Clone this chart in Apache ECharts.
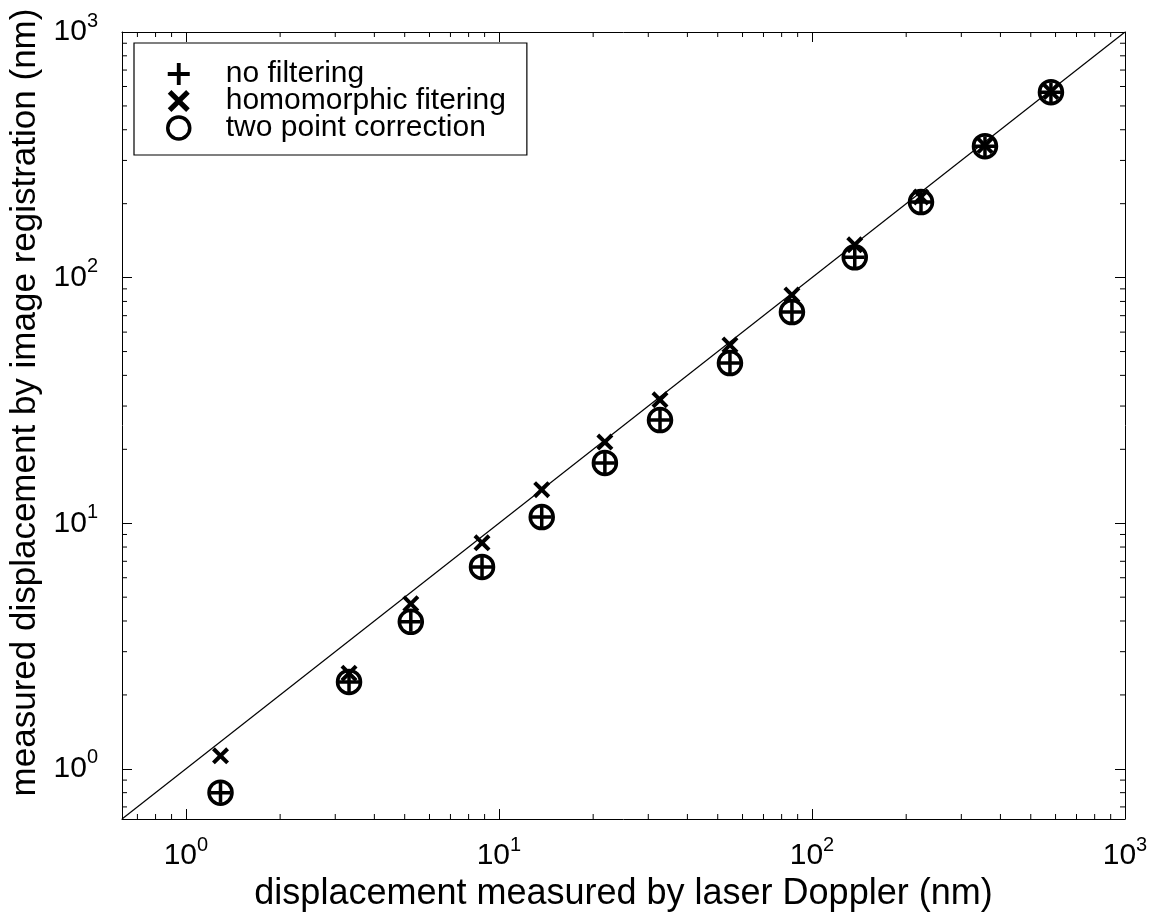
<!DOCTYPE html>
<html>
<head>
<meta charset="utf-8">
<title>Image registration vs laser Doppler displacement</title>
<script src="https://cdn.jsdelivr.net/npm/echarts@6/dist/echarts.min.js"></script>
<style>
  html, body { margin: 0; padding: 0; background: #fff; }
  #chart { width: 1154px; height: 915px; }
</style>
</head>
<body>
<div id="chart"></div>
<script>
// Displacement measured by laser Doppler (nm) — x values shared by all series
const laserDoppler = [1.29, 3.32, 5.23, 8.83, 13.7, 21.8, 32.7, 54.7, 86.3, 137, 223, 357, 580];
// Displacement measured by image registration (nm)
const noFiltering   = [0.80, 2.26, 3.97, 6.64, 10.6, 17.6, 26.3, 44.9, 72.4, 121, 203, 343, 569];
const homomorphic   = [1.13, 2.45, 4.70, 8.32, 13.7, 21.4, 31.8, 53.2, 85.0, 136, 213, 345, 572];
const twoPoint      = [0.80, 2.26, 3.97, 6.64, 10.6, 17.6, 26.3, 44.9, 72.4, 121, 203, 343, 569];

const seriesNames = ['no filtering', 'homomorphic fitering', 'two point correction'];
const xTitle = 'displacement measured by laser Doppler (nm)';
const yTitle = 'measured displacement by image registration (nm)';

// Axis range (both axes logarithmic, same extent)
const AXIS_MIN = 0.625;
const AXIS_MAX = 1000;
// Decades and in-decade multipliers used for the minor tick marks
const decades = [0.1, 1, 10, 100];
const minorMultipliers = [2, 3, 4, 5, 6, 7, 8, 9];

const FONT = '"Liberation Sans", Arial, Helvetica, sans-serif';

const minorValues = [];
decades.forEach(d => minorMultipliers.forEach(m => {
  const v = m * d;
  if (v > AXIS_MIN && v < AXIS_MAX) minorValues.push(v);
}));

const zip = (xs, ys) => xs.map((x, i) => [x, ys[i]]);

// Power-of-ten labels rendered as 10 with a superscript exponent
function powLabel(value) {
  const e = Math.log10(value);
  if (Math.abs(e - Math.round(e)) > 1e-6) return '';
  return '{b|10}{s|' + Math.round(e) + '}';
}
const powRich = {
  b: { fontSize: 30, lineHeight: 42, fontFamily: FONT, color: '#000' },
  s: { fontSize: 20, lineHeight: 20, fontFamily: FONT, color: '#000', verticalAlign: 'top' }
};

// Marker shapes
const PLUS = 'path://M8.25,0H11.75V8.25H20V11.75H11.75V20H8.25V11.75H0V8.25H8.25Z';
const CROSS = 'path://M0,3.3L3.3,0L10,6.7L16.7,0L20,3.3L13.3,10L20,16.7L16.7,20L10,13.3L3.3,20L0,16.7L6.7,10Z';

const axisCommon = {
  type: 'log',
  logBase: 10,
  min: AXIS_MIN,
  max: AXIS_MAX,
  splitLine: { show: false },
  axisLine: { show: true, onZero: false, lineStyle: { color: '#000', width: 1 } },
  axisTick: { show: true, inside: true, length: 10, lineStyle: { color: '#000', width: 1 } }
};

function minorTickSeries(isX) {
  return {
    type: 'custom',
    silent: true,
    clip: false,
    z: 1,
    data: minorValues.map(v => [v]),
    encode: isX ? { x: 0 } : { y: 0 },
    renderItem: function (params, api) {
      const v = api.value(0);
      const L = 5;
      const style = { stroke: '#000', lineWidth: 1 };
      if (isX) {
        const b = api.coord([v, AXIS_MIN]);
        const t = api.coord([v, AXIS_MAX]);
        return { type: 'group', children: [
          { type: 'line', shape: { x1: b[0], y1: b[1], x2: b[0], y2: b[1] - L }, style },
          { type: 'line', shape: { x1: t[0], y1: t[1], x2: t[0], y2: t[1] + L }, style }
        ]};
      }
      const l = api.coord([AXIS_MIN, v]);
      const r = api.coord([AXIS_MAX, v]);
      return { type: 'group', children: [
        { type: 'line', shape: { x1: l[0], y1: l[1], x2: l[0] + L, y2: l[1] }, style },
        { type: 'line', shape: { x1: r[0], y1: r[1], x2: r[0] - L, y2: r[1] }, style }
      ]};
    }
  };
}

const chart = echarts.init(document.getElementById('chart'), null, { renderer: 'canvas' });

chart.setOption({
  animation: false,
  backgroundColor: '#fff',
  textStyle: { fontFamily: FONT, color: '#000' },
  grid: { left: 122, right: 29, top: 32, bottom: 96, containLabel: false, outerBoundsMode: 'none' },
  legend: {
    data: [
      { name: seriesNames[0] },
      { name: seriesNames[1] },
      { name: seriesNames[2], itemStyle: { color: 'rgba(0,0,0,0)', borderColor: '#000', borderWidth: 3.5 } }
    ],
    orient: 'vertical',
    left: 134,
    top: 43,
    backgroundColor: '#fff',
    borderColor: '#000',
    borderWidth: 1.2,
    borderRadius: 0,
    padding: [16, 21, 12, 32],
    itemGap: -3,
    itemWidth: 22,
    itemHeight: 22,
    textStyle: { fontSize: 30, lineHeight: 30, fontFamily: FONT, color: '#000', padding: [0, 0, 0, 31] },
    selectedMode: false
  },
  xAxis: [
    Object.assign({}, axisCommon, {
      position: 'bottom',
      name: xTitle,
      nameLocation: 'middle',
      nameGap: 53,
      nameTextStyle: { fontSize: 36, fontFamily: FONT, color: '#000' },
      axisLabel: { show: true, margin: 16, formatter: powLabel, rich: powRich, showMinLabel: false }
    }),
    Object.assign({}, axisCommon, {
      position: 'top',
      axisLabel: { show: false }
    })
  ],
  yAxis: [
    Object.assign({}, axisCommon, {
      position: 'left',
      name: yTitle,
      nameLocation: 'middle',
      nameGap: 70,
      nameTextStyle: { fontSize: 35, fontFamily: FONT, color: '#000', padding: [0, 0, 0, 46] },
      axisLabel: { show: true, margin: 24, formatter: powLabel, rich: powRich, showMinLabel: false }
    }),
    Object.assign({}, axisCommon, {
      position: 'right',
      axisLabel: { show: false }
    })
  ],
  series: [
    minorTickSeries(true),
    minorTickSeries(false),
    {
      // y = x reference line
      type: 'line',
      silent: true,
      symbol: 'none',
      z: 2,
      lineStyle: { color: '#000', width: 1.2 },
      data: [[AXIS_MIN, AXIS_MIN], [AXIS_MAX, AXIS_MAX]]
    },
    {
      name: seriesNames[0],
      type: 'scatter',
      symbol: PLUS,
      symbolSize: 20,
      z: 4,
      itemStyle: { color: '#000', opacity: 1 },
      data: zip(laserDoppler, noFiltering)
    },
    {
      name: seriesNames[1],
      type: 'scatter',
      symbol: CROSS,
      symbolSize: 17,
      z: 3,
      itemStyle: { color: '#000', opacity: 1 },
      data: zip(laserDoppler, homomorphic)
    },
    {
      name: seriesNames[2],
      type: 'scatter',
      symbol: 'circle',
      symbolSize: 23,
      z: 5,
      itemStyle: { color: 'rgba(0,0,0,0)', borderColor: '#000', borderWidth: 3.5, opacity: 1 },
      data: zip(laserDoppler, twoPoint)
    }
  ]
});
</script>
</body>
</html>
